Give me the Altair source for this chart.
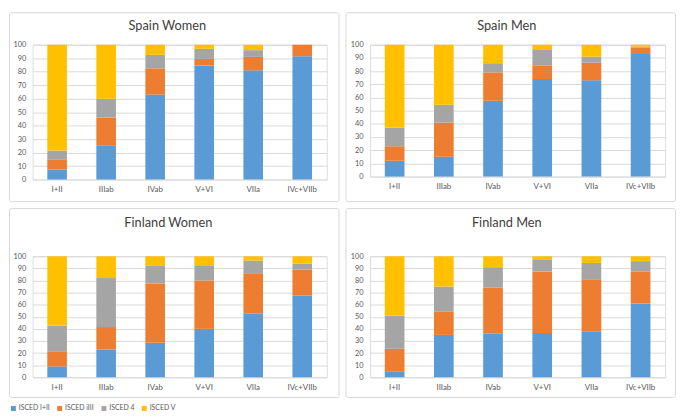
import altair as alt
import pandas as pd

categories = ["I+II", "IIIab", "IVab", "V+VI", "VIIa", "IVc+VIIb"]
series = ["ISCED I+II", "ISCED iIII", "ISCED 4", "ISCED V"]
colors = ["#5B9BD5", "#ED7D31", "#A5A5A5", "#FFC000"]

# Spain Women
sw_isced12 = [7.5, 25, 63, 84.5, 81, 91.5]
sw_isced3 = [7.5, 21, 19.5, 5, 10, 8.5]
sw_isced4 = [6.5, 14, 10, 7.5, 5, 0]
sw_isced5 = [78.5, 40, 7.5, 3, 4, 0]

# Spain Men
sm_isced12 = [12, 15, 57.5, 74, 73, 93]
sm_isced3 = [11, 26, 21.5, 10, 13.5, 5]
sm_isced4 = [14, 13.5, 7, 12, 4.5, 0.5]
sm_isced5 = [63, 45.5, 14, 4, 9, 1.5]

# Finland Women
fw_isced12 = [9, 23, 28.5, 40, 52.5, 67.5]
fw_isced3 = [12.5, 18.5, 49, 40, 33.5, 21.5]
fw_isced4 = [21, 40.5, 15, 12, 10.5, 5]
fw_isced5 = [57.5, 18, 7.5, 8, 3.5, 6]

# Finland Men
fm_isced12 = [4.5, 35, 36, 36.5, 38, 61]
fm_isced3 = [19, 19.5, 38, 51, 43, 26.5]
fm_isced4 = [27.5, 20.5, 17, 10, 13.5, 8.5]
fm_isced5 = [49, 25, 9, 2.5, 5.5, 4]

BW, BH = 336, 193
FONT = "Lato"
LABEL_COLOR = "#595959"
GRID_COLOR = "#D9D9D9"
# first panel's plot origin offset (legend is placed relative to it)
PX0, PY0 = 24, 33


def build_df(cols):
    rows = []
    for si, (s, vals) in enumerate(zip(series, cols)):
        for c, v in zip(categories, vals):
            rows.append({"category": c, "series": s, "s_idx": si, "value": v})
    return pd.DataFrame(rows)


def panel(name, cols, px, py, W, H, tx, ty):
    df = build_df(cols)
    bars = alt.Chart(df).mark_bar().encode(
        x=alt.X(
            "category:N",
            sort=categories,
            scale=alt.Scale(paddingInner=0.6, paddingOuter=0.3),
            axis=alt.Axis(
                title=None, labelAngle=0, ticks=False, tickSize=0, domain=False,
                labelPadding=6, labelFontSize=8, labelColor=LABEL_COLOR, grid=False,
                labelFont=FONT,
            ),
        ),
        y=alt.Y(
            "value:Q",
            stack="zero",
            scale=alt.Scale(domain=[0, 100], nice=False),
            axis=alt.Axis(
                title=None, values=list(range(0, 101, 10)), grid=True,
                gridColor=GRID_COLOR, domain=False, ticks=False, tickSize=0,
                labelPadding=7, labelFontSize=7.5, labelColor=LABEL_COLOR,
                labelFlush=False, labelFont=FONT,
            ),
        ),
        color=alt.Color(
            "series:N",
            sort=series,
            scale=alt.Scale(domain=series, range=colors),
            legend=alt.Legend(
                title=None, orient="none", legendX=1 - PX0, legendY=399 - PY0,
                direction="horizontal", symbolType="square", symbolSize=25,
                symbolStrokeWidth=0, labelFontSize=7, labelColor=LABEL_COLOR,
                labelFont=FONT, labelOffset=2, columnPadding=6, padding=0,
            ),
        ),
        order=alt.Order("s_idx:Q", sort="ascending"),
    )
    border = alt.Chart(pd.DataFrame({"b": [0]})).mark_rect(
        fillOpacity=0, stroke="#D6D6D6", strokeWidth=1, cornerRadius=2
    ).encode(
        x=alt.value(-px + 0.5), x2=alt.value(BW - px - 0.5),
        y=alt.value(-py + 0.5), y2=alt.value(BH - py - 0.5),
    )
    title = alt.Chart(pd.DataFrame({"t": [name]})).mark_text(
        fontSize=13, color="#404040", font=FONT, align="center", baseline="middle"
    ).encode(text="t:N", x=alt.value(tx - px), y=alt.value(ty - py))
    return alt.layer(border, bars, title).properties(width=W, height=H)


tl = panel("Spain Women", [sw_isced12, sw_isced3, sw_isced4, sw_isced5],
           PX0, PY0, 299, 137, 161, 14)
tr = panel("Spain Men", [sm_isced12, sm_isced3, sm_isced4, sm_isced5],
           25, 33, 300, 134, 164, 14)
bl = panel("Finland Women", [fw_isced12, fw_isced3, fw_isced4, fw_isced5],
           24, 49, 299, 123, 162, 15)
br = panel("Finland Men", [fm_isced12, fm_isced3, fm_isced4, fm_isced5],
           25, 49, 300, 123, 164, 15)

chart = alt.concat(
    tl, tr, bl, br, columns=2, spacing=4,
).properties(padding=0).configure_view(strokeWidth=0).configure(font=FONT)

chart.save("out.html", embed_options={"renderer": "svg", "actions": False})
